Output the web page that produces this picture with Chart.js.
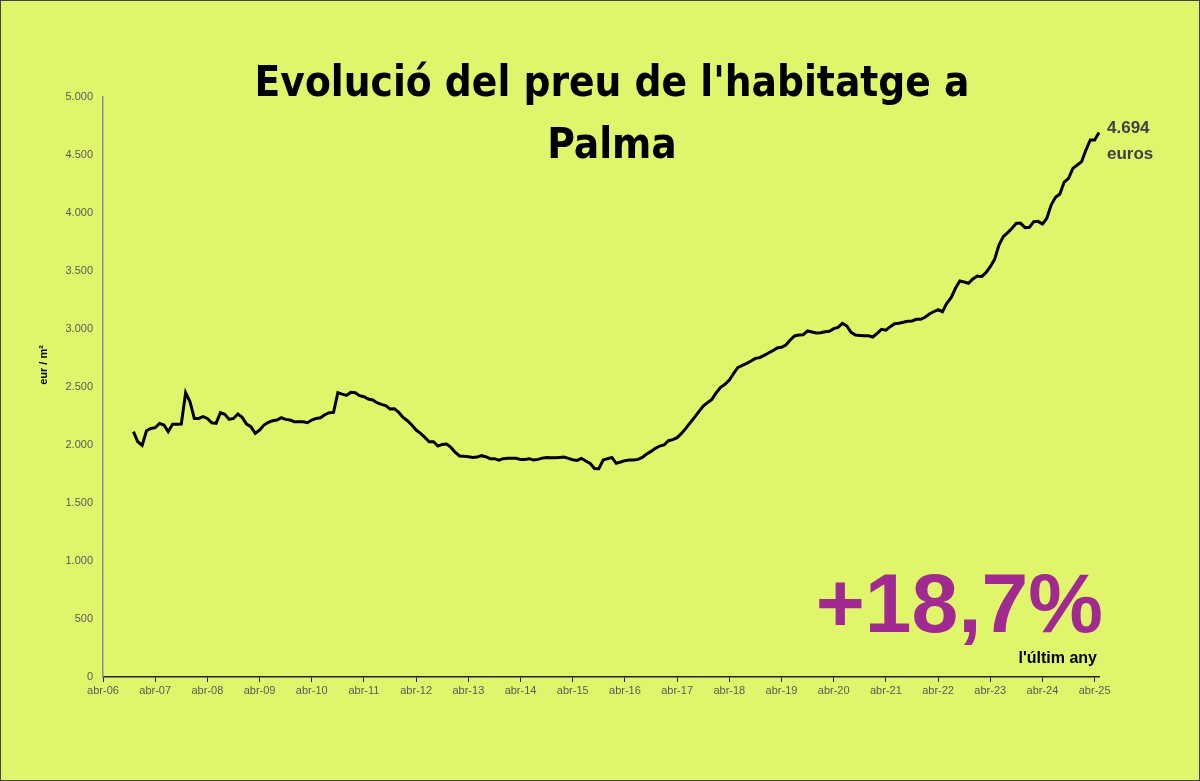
<!DOCTYPE html>
<html lang="ca">
  <head>
    <meta charset="UTF-8" />
    <title>Evolució del preu de l'habitatge a Palma</title>
    <script src="https://cdn.jsdelivr.net/npm/chart.js"></script>
    <style>
      body { margin: 0; background: #e1f56c; }
    </style>
  </head>
  <body>
    <canvas id="grafic" width="1200" height="781"></canvas>
    <script>
      // preu mitjà (eur/m2), mensual, de nov-06 a mai-25
      const primerMes = 7; // mesos des d'abr-06 fins al primer valor
      const preu = [
        2115, 2028, 1997, 2123, 2143, 2149, 2186, 2172, 2115, 2178, 2178, 2180,
        2451, 2373, 2229, 2229, 2244, 2229, 2192, 2186, 2278, 2264, 2221, 2229,
        2267, 2238, 2180, 2158, 2100, 2129, 2172, 2195, 2209, 2215, 2235, 2221,
        2215, 2201, 2201, 2201, 2192, 2215, 2229, 2235, 2261, 2278, 2281, 2451,
        2439, 2428, 2454, 2451, 2425, 2416, 2396, 2388, 2365, 2350, 2340, 2310,
        2313, 2281, 2238, 2209, 2172, 2129, 2100, 2066, 2028, 2028, 1991, 2005,
        2008, 1979, 1936, 1905, 1902, 1899, 1893, 1896, 1908, 1899, 1882, 1882,
        1870, 1882, 1885, 1885, 1885, 1876, 1876, 1882, 1870, 1876, 1887, 1893,
        1890, 1890, 1893, 1896, 1885, 1873, 1867, 1885, 1862, 1842, 1798, 1796,
        1870, 1882, 1893, 1842, 1853, 1865, 1870, 1870, 1876, 1893, 1922, 1945,
        1971, 1991, 2000, 2037, 2046, 2063, 2100, 2143, 2192, 2238, 2287, 2336,
        2365, 2393, 2451, 2497, 2523, 2560, 2618, 2669, 2687, 2704, 2724, 2747,
        2753, 2773, 2793, 2813, 2836, 2842, 2862, 2905, 2940, 2948, 2951, 2983,
        2974, 2965, 2968, 2977, 2980, 3003, 3014, 3049, 3026, 2971, 2948, 2945,
        2942, 2942, 2931, 2962, 2997, 2990, 3020, 3046, 3049, 3058, 3066, 3069,
        3083, 3083, 3101, 3129, 3149, 3167, 3149, 3221, 3270, 3351, 3414, 3405,
        3394, 3431, 3457, 3451, 3486, 3537, 3601, 3724, 3796, 3831, 3868, 3911,
        3911, 3874, 3877, 3925, 3928, 3905, 3954, 4069, 4135, 4164, 4267, 4299,
        4385, 4414, 4443, 4543, 4630, 4630, 4694
      ];
      const nomsMes = ['abr', 'mai', 'jun', 'jul', 'ago', 'set', 'oct', 'nov', 'des', 'gen', 'feb', 'mar'];
      const yTicks = [0, 500, 1000, 1500, 2000, 2500, 3000, 3500, 4000, 4500, 5000];
      const titol = ["Evolució del preu de l'habitatge a", 'Palma'];
      const darrerPreu = '4.694';
      const variacio = '+18,7%';

      // etiquetes mensuals d'abr-06 a mai-25
      const mesos = [];
      const total = primerMes + preu.length;
      for (let i = 0; i < total; i++) {
        const any = 2006 + Math.floor((i + 3) / 12);
        mesos.push(nomsMes[i % 12] + '-' + String(any).slice(2));
      }
      const dades = new Array(primerMes).fill(null).concat(preu);

      const punts = (n) => String(n).replace(/\B(?=(\d{3})+(?!\d))/g, '.');

      const fons = '#e1f56c';
      const textos = {
        id: 'textos',
        beforeDraw(chart) {
          const ctx = chart.ctx;
          ctx.save();
          ctx.fillStyle = fons;
          ctx.fillRect(0, 0, chart.width, chart.height);
          ctx.restore();
        },
        afterDraw(chart) {
          const { ctx } = chart;
          const x = chart.scales.x;
          const y = chart.scales.y;
          ctx.save();

          // títol
          const famTitol = "'Liberation Sans Narrow', 'DejaVu Sans Condensed', 'Liberation Sans', sans-serif";
          ctx.font = 'bold 50px ' + famTitol;
          let mida = Math.min(56, 50 * 715 / ctx.measureText(titol[0]).width);
          ctx.font = 'bold ' + mida + 'px ' + famTitol;
          ctx.fillStyle = '#000';
          ctx.textAlign = 'center';
          ctx.textBaseline = 'alphabetic';
          ctx.fillText(titol[0], 612, 96);
          ctx.fillText(titol[1], 612, 158);

          // títol de l'eix y
          ctx.save();
          ctx.translate(44, 365);
          ctx.rotate(-Math.PI / 2);
          ctx.font = "bold 11px 'Liberation Sans', Arial, sans-serif";
          ctx.textBaseline = 'middle';
          ctx.fillText('eur / m²', 0, 0);
          ctx.restore();

          // darrer valor
          const ultim = dades.length - 1;
          const px = x.getPixelForValue(ultim);
          const py = y.getPixelForValue(dades[ultim]);
          ctx.textAlign = 'left';
          ctx.fillStyle = '#404040';
          ctx.font = "bold 17px 'Liberation Sans', Arial, sans-serif";
          ctx.fillText(darrerPreu, px + 8, py + 1);
          ctx.fillText('euros', px + 8, py + 27);

          // variació anual
          ctx.textAlign = 'right';
          ctx.fillStyle = '#a02a90';
          ctx.font = "bold 84px 'Liberation Sans', Arial, sans-serif";
          ctx.fillText(variacio, 1103, 632);
          ctx.fillStyle = '#000';
          ctx.font = "bold 16px 'Liberation Sans', Arial, sans-serif";
          ctx.fillText("l'últim any", 1097, 663);

          // vora
          ctx.strokeStyle = '#444';
          ctx.lineWidth = 1;
          ctx.strokeRect(0.5, 0.5, chart.width - 1, chart.height - 1);
          ctx.restore();
        }
      };

      const ctx = document.getElementById('grafic').getContext('2d');
      new Chart(ctx, {
        type: 'line',
        data: {
          labels: mesos,
          datasets: [
            {
              label: 'Preu',
              data: dades,
              borderColor: '#000',
              borderWidth: 3,
              pointRadius: 0,
              tension: 0,
              spanGaps: false
            }
          ]
        },
        options: {
          responsive: false,
          animation: false,
          devicePixelRatio: 1,
          layout: { padding: { top: 97, right: 101, bottom: 74, left: 0 } },
          plugins: {
            legend: { display: false },
            tooltip: { enabled: false }
          },
          scales: {
            x: {
              type: 'category',
              offset: false,
              afterFit: (s) => { s.height = 30; },
              grid: { drawOnChartArea: false, drawTicks: true, tickLength: 5, color: '#222', lineWidth: 1 },
              border: { display: true, color: '#222', width: 1.5 },
              ticks: {
                autoSkip: false,
                maxRotation: 0,
                padding: 2,
                color: '#595959',
                font: { family: "'Liberation Sans', Arial, sans-serif", size: 11 },
                callback: function (val) {
                  const l = this.getLabelForValue(val);
                  return l.startsWith('abr') ? l : null;
                }
              }
            },
            y: {
              min: 0,
              max: 5000,
              afterFit: (s) => { s.width = 103; },
              afterBuildTicks: (s) => { s.ticks = yTicks.map((v) => ({ value: v })); },
              grid: { display: false, drawTicks: false },
              border: { display: true, color: '#8c8c8c', width: 1.5 },
              ticks: {
                padding: 10,
                color: '#595959',
                font: { family: "'Liberation Sans', Arial, sans-serif", size: 11 },
                callback: (v) => punts(v)
              }
            }
          }
        },
        plugins: [textos]
      });
    </script>
  </body>
</html>
